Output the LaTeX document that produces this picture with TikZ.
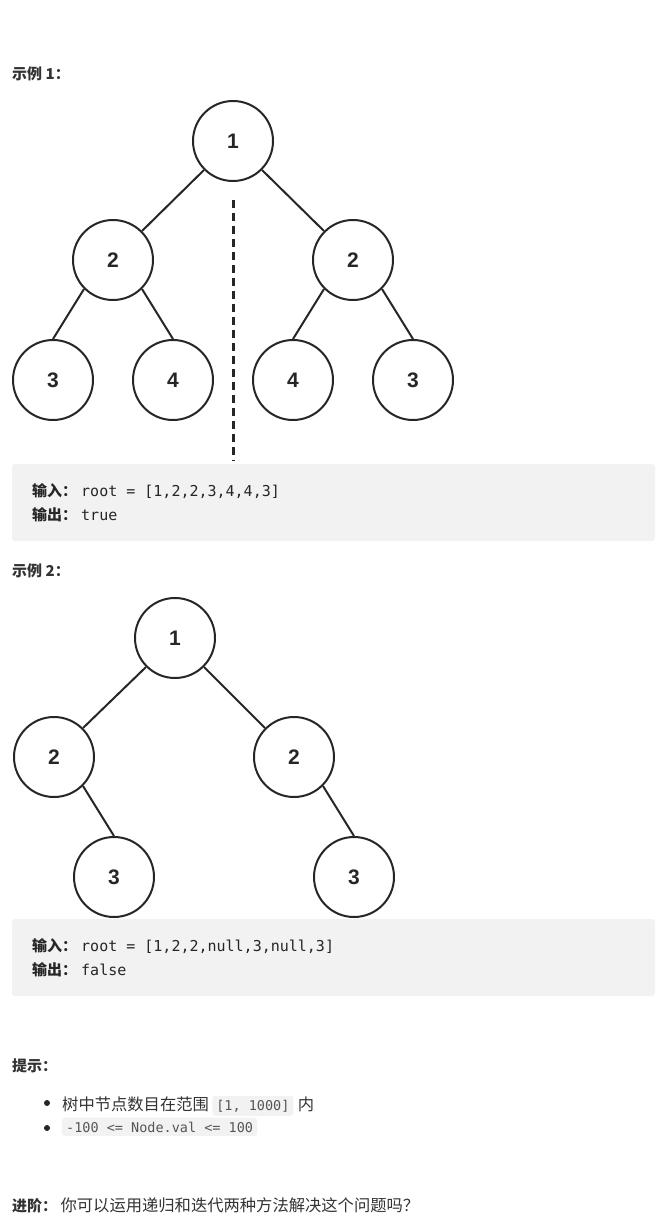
\documentclass[tikz,border=0pt]{standalone}
\usepackage{fontspec}
\setmainfont{Noto Sans CJK SC}
\newfontfamily\numfont{Liberation Sans}
\newfontfamily\codefont{DejaVu Sans Mono}
\usetikzlibrary{positioning}
\definecolor{codebg}{HTML}{F2F2F2}
\definecolor{ink}{HTML}{262626}
\definecolor{textgray}{HTML}{333333}
\definecolor{inlinegray}{HTML}{555555}
\tikzset{
  treenode/.style={circle, draw=ink, line width=2pt, minimum size=80pt, inner sep=0pt,
    font=\numfont\bfseries\fontsize{21}{21}\selectfont, text=ink},
  treeedge/.style={draw=ink, line width=2pt},
  mirrorline/.style={draw=ink, line width=3pt, dash pattern=on 8pt off 5pt},
  heading/.style={anchor=base west, inner sep=0pt, text=textgray,
    font=\bfseries\fontsize{15}{18}\selectfont},
  bodytext/.style={anchor=base west, inner sep=0pt, text=textgray,
    font=\fontsize{16.3}{19}\selectfont},
  codebox/.style={fill=codebg, rounded corners=3pt},
  codeline/.style={anchor=base west, inner sep=0pt, text=ink, font=\fontsize{15}{18}\selectfont},
  inlinecode/.style={fill=codebg, rounded corners=3pt, inner xsep=4pt, inner ysep=4pt,
    text=inlinegray, font=\codefont\fontsize{13.5}{16}\selectfont},
  bulletdot/.style={circle, fill=ink, minimum size=6pt, inner sep=0pt},
}
\newcommand{\codetxt}[1]{\hspace{4pt}{\codefont\fontsize{15}{17}\selectfont #1}}

\begin{document}
\begin{tikzpicture}[x=1pt, y=-1pt]
\useasboundingbox (0,0) rectangle (666,1214);

% example 1
\node[heading] (h1) at (12,80) {示例 1：};
\node[treenode] (r1) at (233,141) {1};
\node[treenode] (l1) at (113,260) {2};
\node[treenode] (r2) at (353,260) {2};
\node[treenode] (ll) at (53,380) {3};
\node[treenode] (lr) at (173,380) {4};
\node[treenode] (rl) at (293,380) {4};
\node[treenode] (rr) at (413,380) {3};
\draw[treeedge] (r1.south west) -- (l1.north east);
\draw[treeedge] (r1.south east) -- (r2.north west);
\foreach \p/\c in {l1/ll,r2/rl} \draw[treeedge] (\p.south west) -- (\c.north);
\foreach \p/\c in {l1/lr,r2/rr} \draw[treeedge] (\p.south east) -- (\c.north);
\coordinate (axtop) at (233,200);
\coordinate (axbot) at (233,461);
\draw[mirrorline] (axtop) -- (axbot);

\fill[codebox] (12,464) rectangle (655,541);
\node[codeline] (in1) at (32,496) {\textbf{输入：}\codetxt{root = [1,2,2,3,4,4,3]}};
\node[codeline] (out1) at (32,520) {\textbf{输出：}\codetxt{true}};

% example 2
\node[heading] (h2) at (12,576) {示例 2：};
\node[treenode] (s1) at (175,638) {1};
\node[treenode] (sl) at (54,757) {2};
\node[treenode] (sr) at (294,757) {2};
\node[treenode] (slr) at (114,877) {3};
\node[treenode] (srr) at (354,877) {3};
\draw[treeedge] (s1.south west) -- (sl.north east);
\draw[treeedge] (s1.south east) -- (sr.north west);
\foreach \p/\c in {sl/slr,sr/srr} \draw[treeedge] (\p.south east) -- (\c.north);

\fill[codebox] (12,919) rectangle (655,996);
\node[codeline] (in2) at (32,951) {\textbf{输入：}\codetxt{root = [1,2,2,null,3,null,3]}};
\node[codeline] (out2) at (32,975) {\textbf{输出：}\codetxt{false}};

% hints
\node[heading] (tips) at (12,1071) {提示：};
\node[bulletdot] (b1) at (47,1103) {};
\node[bulletdot] (b2) at (47,1128) {};
\node[bodytext] (t1) at (62,1110) {树中节点数目在范围};
\node[inlinecode, anchor=base west] (c1) at ([xshift=3pt]t1.base east) {[1, 1000]};
\node[bodytext] (t2) at ([xshift=4pt]c1.base east) {内};
\node[inlinecode, anchor=base west] (c2) at (62,1132) {-100 <= Node.val <= 100};

% follow-up
\node[heading] (adv) at (12,1211) {进阶：};
\node[bodytext] (q) at ([xshift=3pt]adv.base east) {你可以运用递归和迭代两种方法解决这个问题吗？};
\end{tikzpicture}
\end{document}
